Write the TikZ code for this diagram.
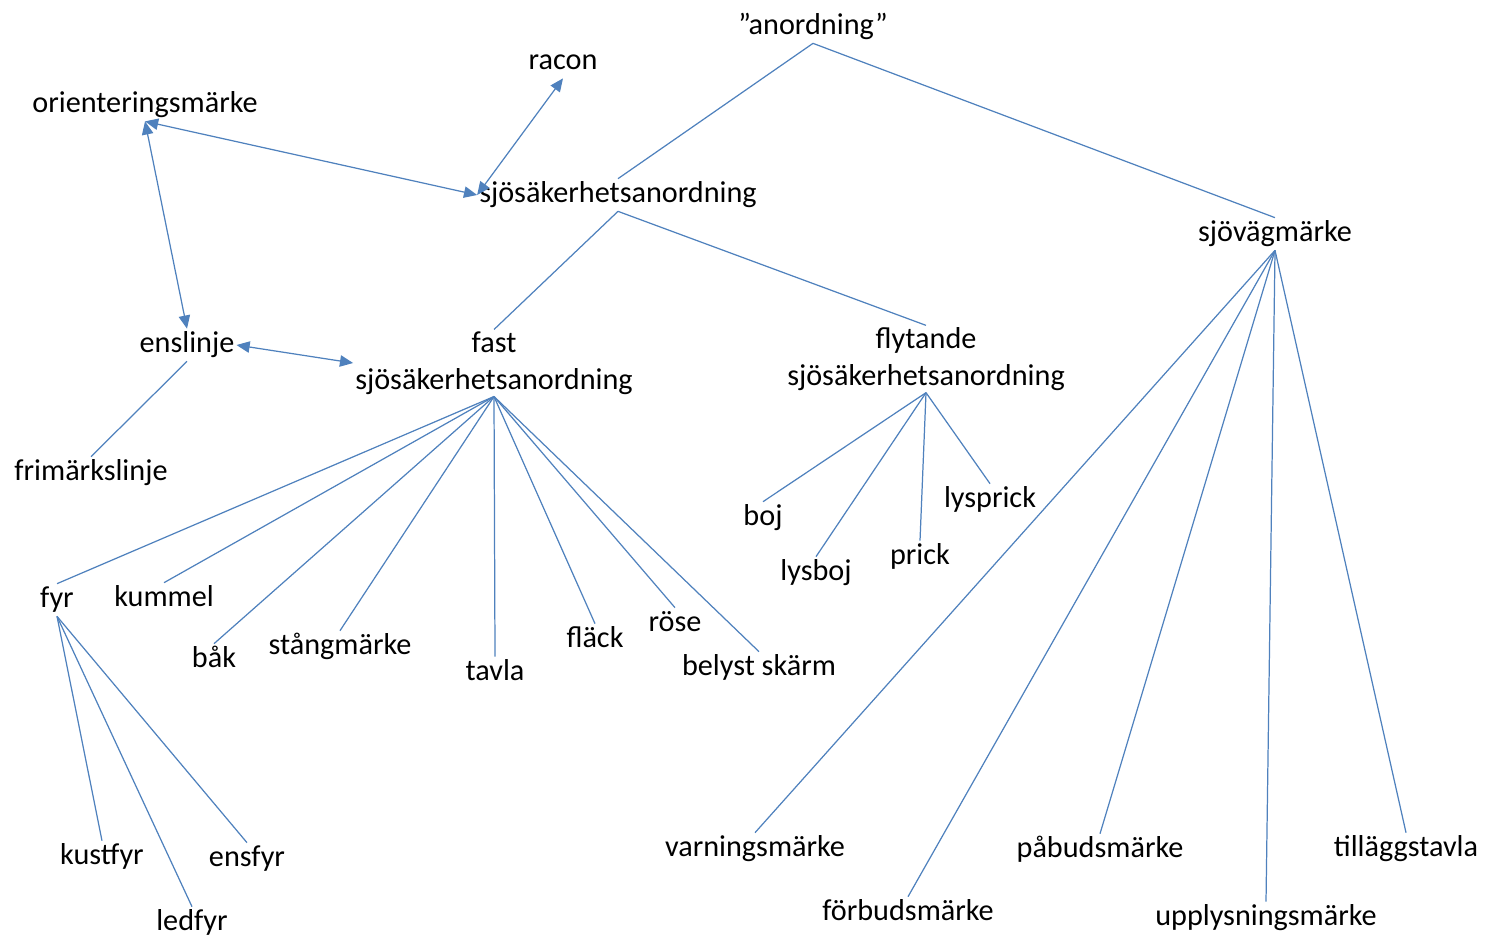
\documentclass[tikz,border=0pt]{standalone}
\usepackage{fontspec}
\setmainfont{Carlito}
\usepackage{tikz}
\usetikzlibrary{arrows.meta}
\usepackage{xcolor}
\definecolor{lineblue}{HTML}{4F81BD}

\begin{document}
\begin{tikzpicture}[x=0.02cm, y=-0.02cm,
  lbl/.style={inner sep=1pt, text height=12.3pt, text depth=3.9pt, font=\fontsize{17.2}{21}\selectfont},
  lbl2/.style={inner sep=1pt, align=center, font=\fontsize{17.2}{21}\selectfont},
  edge/.style={lineblue, line width=0.7pt},
  link/.style={edge, {Triangle[length=7.5pt,width=6.5pt]}-{Triangle[length=7.5pt,width=6.5pt]}}]
        \useasboundingbox (0,0) rectangle (1486,938);

        \node[lbl] (top) at (813,27) {”anordning”};
        \node[lbl] (racon) at (563,62) {racon};
        \node[lbl] (orient) at (145,105) {orienteringsmärke};
        \node[lbl] (sjo) at (618,195) {sjösäkerhetsanordning};
        \node[lbl] (sjovag) at (1275,234) {sjövägmärke};
        \node[lbl] (enslinje) at (187,345) {enslinje};
        \node[lbl2] (fast) at (494,363) {fast\\sjösäkerhetsanordning};
        \node[lbl2] (flyt) at (926,359) {flytande\\sjösäkerhetsanordning};
        \node[lbl] (frimark) at (91,473) {frimärkslinje};

        \node[lbl] (boj) at (763,518) {boj};
        \node[lbl] (lysprick) at (990,500) {lysprick};
        \node[lbl] (lysboj) at (816,573) {lysboj};
        \node[lbl] (prick) at (920,557) {prick};

        \node[lbl] (fyr) at (57,600) {fyr};
        \node[lbl] (kummel) at (164,599) {kummel};
        \node[lbl] (bak) at (214,660) {båk};
        \node[lbl] (stang) at (340,647) {stångmärke};
        \node[lbl] (tavla) at (495,673) {tavla};
        \node[lbl] (flack) at (595,640) {fläck};
        \node[lbl] (rose) at (675,624) {röse};
        \node[lbl] (skarm) at (759,668) {belyst skärm};

        \node[lbl] (kustfyr) at (102,857) {kustfyr};
        \node[lbl] (ensfyr) at (247,859) {ensfyr};
        \node[lbl] (ledfyr) at (192,923) {ledfyr};

        \node[lbl] (varn) at (755,849) {varningsmärke};
        \node[lbl] (forbud) at (908,913) {förbudsmärke};
        \node[lbl] (pabud) at (1100,850) {påbudsmärke};
        \node[lbl] (upplys) at (1266,918) {upplysningsmärke};
        \node[lbl] (tillagg) at (1406,849) {tilläggstavla};

        \draw[edge] (top.south)--(sjo.north);
        \draw[edge] (top.south)--(sjovag.north);
        \draw[edge] (sjo.south)--(fast.north);
        \draw[edge] (sjo.south)--(flyt.north);
        \draw[edge] (enslinje.south)--(frimark.north);

        \draw[edge] (fast.south)--(fyr.north);
        \draw[edge] (fast.south)--(kummel.north);
        \draw[edge] (fast.south)--(bak.north);
        \draw[edge] (fast.south)--(stang.north);
        \draw[edge] (fast.south)--(tavla.north);
        \draw[edge] (fast.south)--(flack.north);
        \draw[edge] (fast.south)--(rose.north);
        \draw[edge] (fast.south)--(skarm.north);

        \draw[edge] (fyr.south)--(kustfyr.north);
        \draw[edge] (fyr.south)--(ledfyr.north);
        \draw[edge] (fyr.south)--(ensfyr.north);

        \draw[edge] (flyt.south)--(boj.north);
        \draw[edge] (flyt.south)--(lysboj.north);
        \draw[edge] (flyt.south)--(prick.north);
        \draw[edge] (flyt.south)--(lysprick.north);

        \draw[edge] (sjovag.south)--(varn.north);
        \draw[edge] (sjovag.south)--(forbud.north);
        \draw[edge] (sjovag.south)--(pabud.north);
        \draw[edge] (sjovag.south)--(upplys.north);
        \draw[edge] (sjovag.south)--(tillagg.north);

        \draw[link] (orient.south)--(sjo.west);
        \draw[link] (racon.south)--(sjo.west);
        \draw[link] (orient.south)--(enslinje.north);
        \draw[link] (enslinje.east)--(fast.west);
        \end{tikzpicture}
\end{document}
